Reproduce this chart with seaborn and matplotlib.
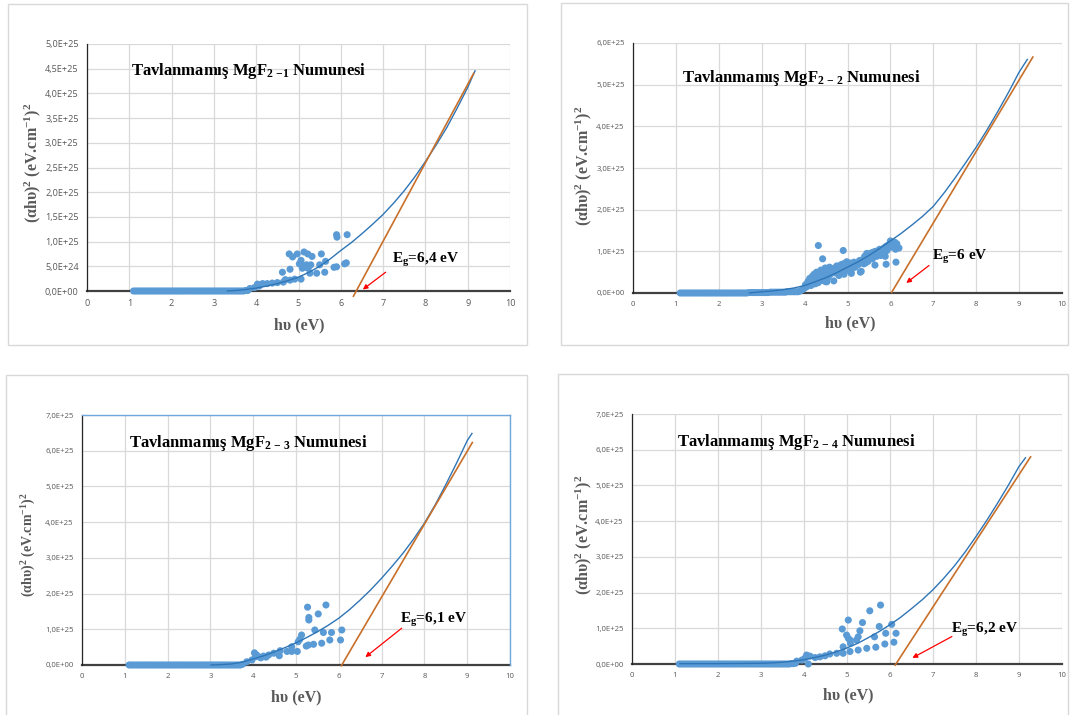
import matplotlib
matplotlib.use("Agg")
import matplotlib.pyplot as plt
import seaborn as sns
import pandas as pd
from matplotlib.patches import Rectangle

# ---------------- DATA (y values in units of 1E25) ----------------
base_x = [1.10, 1.15, 1.20, 1.25, 1.30, 1.35, 1.40, 1.45, 1.50, 1.55, 1.60,
          1.65, 1.70, 1.75, 1.80, 1.85, 1.90, 1.95, 2.00, 2.05, 2.10, 2.15,
          2.20, 2.25, 2.30, 2.35, 2.40, 2.45, 2.50, 2.55, 2.60, 2.65, 2.70,
          2.75, 2.80, 2.85, 2.90, 2.95, 3.00, 3.05, 3.10, 3.15, 3.20, 3.25,
          3.30, 3.35, 3.40, 3.45, 3.50, 3.55, 3.60, 3.65, 3.70, 3.75, 3.80]
base_y1 = [0.0, 0.0, 0.0, 0.0, 0.0, 0.0, 0.0, 0.0, 0.0, 0.0, 0.0,
           0.0, 0.0, 0.0, 0.0, 0.0, 0.0, 0.0, 0.0, 0.0, 0.0, 0.0,
           0.0, 0.0, 0.0, 0.0, 0.0, 0.0, 0.0, 0.0, 0.0, 0.0, 0.0,
           0.0, 0.0, 0.0, 0.0, 0.0, 0.0, 0.0, 0.0, 0.0, 0.0, 0.0,
           0.0, 0.0, 0.0, 0.0, 0.0, 0.0, 0.0, 0.0, 0.0, 0.01, 0.01]
base_y2 = [0.0, 0.0, 0.0, 0.0, 0.0, 0.0, 0.0, 0.0, 0.0, 0.0, 0.0,
           0.0, 0.0, 0.0, 0.0, 0.0, 0.0, 0.0, 0.0, 0.0, 0.0, 0.0,
           0.0, 0.0, 0.0, 0.0, 0.0, 0.0, 0.0, 0.0, 0.0, 0.0, 0.01,
           0.01, 0.01, 0.01, 0.01, 0.01, 0.01, 0.01, 0.01, 0.01, 0.02, 0.02,
           0.02, 0.02, 0.02, 0.02, 0.02, 0.02, 0.03, 0.03, 0.03, 0.03, 0.03]
base_y4 = [0.0, 0.0, 0.0, 0.0, 0.0, 0.0, 0.0, 0.0, 0.0, 0.0, 0.0,
           0.0, 0.0, 0.0, 0.0, 0.0, 0.0, 0.0, 0.0, 0.0, 0.0, 0.0,
           0.0, 0.0, 0.0, 0.0, 0.0, 0.0, 0.0, 0.0, 0.0, 0.0, 0.0,
           0.0, 0.0, 0.0, 0.0, 0.0, 0.0, 0.0, 0.0, 0.0, 0.0, 0.0,
           0.0, 0.0, 0.0, 0.0, 0.0, 0.0, 0.0, 0.0, 0.01, 0.01, 0.02]

# Panel 1 (MgF2-1)
s1_x = [3.85, 3.96, 4.03, 4.07, 4.15, 4.26, 4.38, 4.50, 4.64, 4.69, 4.80, 4.91, 5.06,
        4.62, 4.80, 5.09, 5.27, 5.43, 5.62, 4.78, 4.86, 4.97, 5.13, 5.22, 5.32, 5.54,
        5.06, 5.11, 5.19, 5.29, 5.50, 5.64, 5.84, 5.90, 6.09, 6.13, 5.90, 5.91, 6.15,
        5.16, 5.23, 5.02]
s1_y = [0.05, 0.07, 0.14, 0.10, 0.15, 0.15, 0.16, 0.17, 0.18, 0.23, 0.22, 0.24, 0.24,
        0.38, 0.44, 0.46, 0.36, 0.36, 0.38, 0.75, 0.69, 0.75, 0.79, 0.75, 0.70, 0.75,
        0.62, 0.51, 0.53, 0.53, 0.53, 0.60, 0.48, 0.49, 0.55, 0.57, 1.14, 1.09, 1.14,
        0.48, 0.46, 0.55]
c1_x = [3.3, 3.5, 3.75, 4.0, 4.25, 4.5, 4.75, 5.0, 5.25, 5.5, 5.75, 6.0, 6.25, 6.5,
        6.75, 7.0, 7.25, 7.5, 7.75, 8.0, 8.25, 8.5, 8.75, 9.0, 9.18]
c1_y = [0.0, 0.01, 0.03, 0.06, 0.10, 0.15, 0.21, 0.28, 0.38, 0.50, 0.65, 0.82, 0.98, 1.16,
        1.35, 1.55, 1.78, 2.03, 2.31, 2.62, 2.95, 3.30, 3.70, 4.12, 4.47]
o1_x = [6.29, 9.15]
o1_y = [-0.12, 4.42]

# Panel 2 (MgF2-2)
s2_x = [3.85, 3.9, 3.95, 4.0, 4.02, 4.05, 4.08, 4.1, 4.12, 4.15, 4.18, 4.2, 4.22, 4.25, 4.28, 4.3,
        4.32, 4.35, 4.38, 4.4, 4.42, 4.45, 4.48, 4.5, 4.52, 4.55, 4.58, 4.6, 4.65, 4.68,
        4.7, 4.72, 4.75, 4.78, 4.8, 4.82, 4.85, 4.88, 4.9, 4.92, 4.95, 4.98, 5.0, 5.05,
        5.08, 5.1, 5.15, 5.18, 5.2, 5.25, 5.28, 5.32, 5.35, 5.4, 5.42, 5.45, 5.5, 5.55,
        5.58, 5.6, 5.64, 5.65, 5.7, 5.72, 5.75, 5.8, 5.85, 5.88, 5.9, 5.92, 5.95, 6.0,
        6.02, 6.05, 6.08, 6.1, 6.12, 6.13, 6.15, 6.2, 5.9, 4.32, 4.9, 4.42, 5.30, 5.09,
        4.49, 4.30, 4.15, 4.25, 4.55, 4.62, 4.85, 5.02, 5.12, 5.38, 5.48, 5.68, 5.78]
s2_y = [0.03, 0.05, 0.08, 0.12, 0.2, 0.15, 0.28, 0.22, 0.35, 0.3, 0.4, 0.25, 0.45, 0.35, 0.5, 0.38,
        0.25, 0.45, 0.55, 0.4, 0.3, 0.5, 0.6, 0.42, 0.27, 0.52, 0.62, 0.45, 0.55, 0.29,
        0.6, 0.48, 0.65, 0.55, 0.42, 0.62, 0.68, 0.55, 0.7, 0.45, 0.62, 0.75, 0.6, 0.72,
        0.5, 0.66, 0.74, 0.62, 0.72, 0.68, 0.78, 0.52, 0.8, 0.88, 0.72, 0.95, 0.85, 0.96,
        0.82, 0.98, 0.67, 1.0, 0.92, 1.02, 1.05, 0.97, 1.08, 0.88, 1.12, 1.02, 1.15, 1.25,
        1.1, 1.2, 1.15, 1.22, 1.05, 0.74, 1.18, 1.08, 0.69, 1.14, 1.02, 0.82, 0.50, 0.47,
        0.27, 0.25, 0.18, 0.22, 0.38, 0.50, 0.48, 0.55, 0.60, 0.70, 0.76, 0.88, 0.90]
c2_x = [2.7, 3.0, 3.25, 3.5, 3.75, 4.0, 4.25, 4.5, 4.75, 5.0, 5.25, 5.5, 5.75, 6.0, 6.25,
        6.5, 6.75, 7.0, 7.25, 7.5, 7.75, 8.0, 8.25, 8.5, 8.75, 9.0, 9.2]
c2_y = [0.0, 0.03, 0.05, 0.08, 0.12, 0.18, 0.27, 0.37, 0.49, 0.62, 0.75, 0.90, 1.07, 1.25, 1.43,
        1.63, 1.84, 2.08, 2.40, 2.75, 3.12, 3.50, 3.91, 4.35, 4.81, 5.30, 5.62]
o2_x = [6.02, 9.33]
o2_y = [0.0, 5.68]

# Panel 3 (MgF2-3)
s3_x = [3.75, 3.85, 3.97, 4.03, 4.05, 4.08, 4.13, 4.24, 4.36, 4.48, 4.61, 4.63, 4.79,
        4.90, 4.90, 5.03, 5.05, 5.09, 5.13, 5.24, 5.29, 5.41, 5.60, 5.79, 6.04, 5.44,
        5.64, 5.83, 6.07, 5.30, 5.30, 5.52, 5.27, 5.70, 4.18, 4.30]
s3_y = [0.02, 0.09, 0.14, 0.34, 0.23, 0.28, 0.23, 0.25, 0.28, 0.33, 0.26, 0.40, 0.38,
        0.38, 0.51, 0.38, 0.65, 0.72, 0.84, 0.53, 0.56, 0.58, 0.61, 0.70, 0.70, 0.98,
        0.91, 0.91, 0.98, 1.33, 1.26, 1.43, 1.62, 1.68, 0.20, 0.22]
c3_x = [3.0, 3.25, 3.5, 3.75, 4.0, 4.25, 4.5, 4.75, 5.0, 5.25, 5.5, 5.75, 6.0, 6.25,
        6.5, 6.75, 7.0, 7.25, 7.5, 7.75, 8.0, 8.25, 8.5, 8.75, 9.0, 9.12]
c3_y = [0.0, 0.01, 0.03, 0.08, 0.17, 0.26, 0.37, 0.49, 0.62, 0.77, 0.93, 1.11, 1.31, 1.55,
        1.82, 2.11, 2.43, 2.77, 3.13, 3.53, 3.97, 4.48, 5.05, 5.65, 6.28, 6.50]
o3_x = [6.05, 9.13]
o3_y = [-0.04, 6.25]

# Panel 4 (MgF2-4)
s4_x = [3.83, 3.95, 4.02, 4.06, 4.10, 4.14, 4.26, 4.37, 4.49, 4.60, 4.76, 4.91, 4.91,
        5.07, 5.26, 5.46, 5.67, 5.88, 6.09, 5.08, 5.22, 5.26, 5.30, 5.64, 5.90, 6.14,
        4.99, 5.03, 5.07, 4.89, 5.75, 6.04, 5.36, 5.03, 5.53, 5.78]
s4_y = [0.08, 0.11, 0.16, 0.25, 0.00, 0.22, 0.18, 0.20, 0.23, 0.28, 0.30, 0.30, 0.48,
        0.35, 0.39, 0.44, 0.47, 0.56, 0.61, 0.58, 0.67, 0.76, 0.93, 0.76, 0.86, 0.86,
        0.81, 0.72, 0.67, 0.98, 1.05, 1.11, 1.16, 1.23, 1.49, 1.65]
c4_x = [1.1, 2.0, 3.0, 3.25, 3.5, 3.75, 4.0, 4.25, 4.5, 4.75, 5.0, 5.25, 5.5, 5.75, 6.0,
        6.25, 6.5, 6.75, 7.0, 7.25, 7.5, 7.75, 8.0, 8.25, 8.5, 8.75, 9.0, 9.16]
c4_y = [0.01, 0.01, 0.02, 0.03, 0.05, 0.08, 0.12, 0.18, 0.25, 0.34, 0.45, 0.58, 0.74, 0.91, 1.10,
        1.31, 1.55, 1.80, 2.08, 2.40, 2.75, 3.14, 3.57, 4.02, 4.50, 5.00, 5.53, 5.79]
o4_x = [6.11, 9.28]
o4_y = [-0.05, 5.82]

titles = ["Tavlanmamış MgF$_{2\\ \\mathrm{-1}}$ Numunesi",
          "Tavlanmamış MgF$_{2\\ \\mathrm{-\\ 2}}$ Numunesi",
          "Tavlanmamış MgF$_{2\\ \\mathrm{-\\ 3}}$ Numunesi",
          "Tavlanmamış MgF$_{2\\ \\mathrm{-\\ 4}}$ Numunesi"]
eg_labels = ["E$_{\\mathrm{g}}$=6,4 eV", "E$_{\\mathrm{g}}$=6 eV",
             "E$_{\\mathrm{g}}$=6,1 eV", "E$_{\\mathrm{g}}$=6,2 eV"]
x_ticks = [0, 1, 2, 3, 4, 5, 6, 7, 8, 9, 10]
y_ticks1 = [0.0, 0.5, 1.0, 1.5, 2.0, 2.5, 3.0, 3.5, 4.0, 4.5, 5.0]
y_labels1 = ["0,0E+00", "5,0E+24", "1,0E+25", "1,5E+25", "2,0E+25", "2,5E+25",
             "3,0E+25", "3,5E+25", "4,0E+25", "4,5E+25", "5,0E+25"]
y_ticks2 = [0, 1, 2, 3, 4, 5, 6]
y_labels2 = ["0,0E+00", "1,0E+25", "2,0E+25", "3,0E+25", "4,0E+25", "5,0E+25", "6,0E+25"]
y_ticks3 = [0, 1, 2, 3, 4, 5, 6, 7]
y_labels3 = ["0,0E+00", "1,0E+25", "2,0E+25", "3,0E+25", "4,0E+25", "5,0E+25",
             "6,0E+25", "7,0E+25"]

# ---------------- STYLE ----------------
sns.set_theme(style="white")
plt.rcParams['font.family'] = ['Liberation Serif', 'DejaVu Serif']
plt.rcParams['mathtext.fontset'] = 'custom'
plt.rcParams['mathtext.rm'] = 'Liberation Serif:bold'
plt.rcParams['mathtext.it'] = 'Liberation Serif:bold'
plt.rcParams['mathtext.bf'] = 'Liberation Serif:bold'

W, H = 1070, 715
fig = plt.figure(figsize=(W / 100, H / 100), dpi=100)
fig.patch.set_facecolor('white')

PT_COLOR = '#5b9bd5'
CURVE_COLOR = '#2e75b6'
ORANGE = '#c8702a'
GRAY = '#595959'


def px_axes(l, t, r, b):
    return fig.add_axes([l / W, 1 - b / H, (r - l) / W, (b - t) / H])


def border(l, t, r, b):
    fig.patches.append(Rectangle((l / W, 1 - b / H), (r - l) / W, (b - t) / H,
                                 transform=fig.transFigure, fill=False,
                                 edgecolor='#d9d9d9', lw=1.0))


panels = [
    dict(box=(8, 4, 527, 345), ax=(87, 44, 510, 291), bx=base_x, by=base_y1, sx=s1_x, sy=s1_y,
         cx=c1_x, cy=c1_y, ox=o1_x, oy=o1_y, yt=y_ticks1, yl=y_labels1, ymax=5.0,
         title=titles[0], tpos=(1.03, 4.45), eg=eg_labels[0], egpos=(7.2, 0.63),
         arr=((7.06, 0.38), (6.52, 0.03)), ylab=(33, 163), xlab=(299, 325),
         tfs=6.6, yfs=11.5, blue=False),
    dict(box=(561, 3, 1068, 345), ax=(633, 43, 1062, 293), bx=base_x, by=base_y2, sx=s2_x, sy=s2_y,
         cx=c2_x, cy=c2_y, ox=o2_x, oy=o2_y, yt=y_ticks2, yl=y_labels2, ymax=6.0,
         title=titles[1], tpos=(1.15, 5.17), eg=eg_labels[1], egpos=(6.98, 0.86),
         arr=((6.9, 0.66), (6.37, 0.24)), ylab=(584, 166), xlab=(850, 323),
         tfs=5.6, yfs=11.5, blue=False),
    dict(box=(6, 375, 527, 720), ax=(82, 415, 510, 665), bx=base_x[:-2], by=base_y1[:-2], sx=s3_x, sy=s3_y,
         cx=c3_x, cy=c3_y, ox=o3_x, oy=o3_y, yt=y_ticks3, yl=y_labels3, ymax=7.0,
         title=titles[2], tpos=(1.1, 6.23), eg=eg_labels[2], egpos=(7.43, 1.27),
         arr=((7.47, 1.03), (6.62, 0.22)), ylab=(29, 545), xlab=(296, 697),
         tfs=5.6, yfs=10.0, blue=True),
    dict(box=(558, 374, 1068, 720), ax=(632, 414, 1062, 664), bx=base_x, by=base_y4, sx=s4_x, sy=s4_y,
         cx=c4_x, cy=c4_y, ox=o4_x, oy=o4_y, yt=y_ticks3, yl=y_labels3, ymax=7.0,
         title=titles[3], tpos=(1.05, 6.23), eg=eg_labels[3], egpos=(7.42, 0.96),
         arr=((7.44, 0.77), (6.52, 0.17)), ylab=(584, 535), xlab=(848, 695),
         tfs=5.6, yfs=11.5, blue=False),
]

for p in panels:
    border(*p['box'])
    ax = px_axes(*p['ax'])
    ax.set_facecolor('white')

    pts = pd.DataFrame({'x': p['bx'] + p['sx'], 'y': p['by'] + p['sy']})
    curve = pd.DataFrame({'x': p['cx'], 'y': p['cy']})
    oline = pd.DataFrame({'x': p['ox'], 'y': p['oy']})

    sns.scatterplot(data=pts, x='x', y='y', ax=ax, color=PT_COLOR, s=26,
                    edgecolor='none', linewidth=0, zorder=3, clip_on=False)
    sns.lineplot(data=curve, x='x', y='y', ax=ax, color=CURVE_COLOR, lw=1.0,
                 zorder=4, sort=False)
    sns.lineplot(data=oline, x='x', y='y', ax=ax, color=ORANGE, lw=1.2,
                 zorder=5, sort=False)
    for ln in ax.lines:
        ln.set_clip_on(False)
        ln.set_solid_capstyle('butt')

    ax.set_xlim(0, 10)
    ax.set_ylim(0, p['ymax'])
    ax.set_xticks(x_ticks)
    ax.set_xticklabels([str(t) for t in x_ticks])
    ax.set_yticks(p['yt'])
    ax.set_yticklabels(p['yl'])
    ax.tick_params(axis='both', length=0, labelsize=p['tfs'], labelcolor=GRAY, pad=6)
    for lab in ax.get_xticklabels() + ax.get_yticklabels():
        lab.set_fontfamily('Open Sans')
    ax.grid(True, color='#d9d9d9', lw=0.9, zorder=0)
    ax.set_axisbelow(True)
    ax.set_xlabel('')
    ax.set_ylabel('')

    for side in ['top', 'right']:
        if p['blue']:
            ax.spines[side].set_visible(True)
            ax.spines[side].set_color('#6fa8dc')
            ax.spines[side].set_linewidth(1.0)
        else:
            ax.spines[side].set_visible(False)
    ax.spines['left'].set_color('#262626')
    ax.spines['left'].set_linewidth(0.9)
    ax.spines['bottom'].set_color('#404040')
    ax.spines['bottom'].set_linewidth(1.6)
    ax.spines['bottom'].set_zorder(2)

    ax.text(p['tpos'][0], p['tpos'][1], p['title'], fontsize=12, fontweight='bold',
            color='black', va='center', ha='left', zorder=6)
    ax.text(p['egpos'][0], p['egpos'][1], p['eg'], fontsize=11, fontweight='bold',
            color='black', va='center', ha='left', zorder=6)
    ax.annotate('', xy=p['arr'][1], xytext=p['arr'][0],
                arrowprops=dict(arrowstyle='-|>', color='red', lw=0.9,
                                mutation_scale=7, shrinkA=0, shrinkB=0), zorder=6)

    fig.text(p['ylab'][0] / W, 1 - p['ylab'][1] / H,
             '(αhυ)$^{2}$ (eV.cm$^{-1}$)$^{2}$', rotation=90, fontsize=p['yfs'],
             fontweight='bold', color=GRAY, ha='center', va='center')
    fig.text(p['xlab'][0] / W, 1 - p['xlab'][1] / H, 'hυ (eV)', fontsize=11.5,
             fontweight='bold', color=GRAY, ha='center', va='center')

fig.savefig('out.png', dpi=100, facecolor='white')
